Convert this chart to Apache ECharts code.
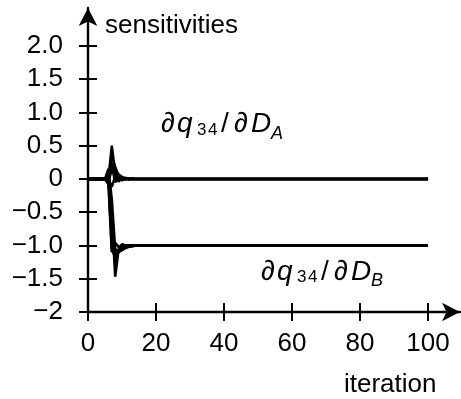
<!DOCTYPE html>
<html>
<head>
<meta charset="utf-8">
<script src="https://cdn.jsdelivr.net/npm/echarts@6/dist/echarts.min.js"></script>
<style>
  html, body { margin: 0; padding: 0; background: #fff; }
  #chart { width: 461px; height: 399px; }
</style>
</head>
<body>
<div id="chart"></div>
<script>
// Iterations at which each run was sampled (the tail stays flat to 100).
const iterations = [0, 5, 6, 7, 8, 9, 10, 11, 12, 13, 14, 16, 100];

// dq34/dD_A for several runs
const dA1 = [0, 0, 0, 0.50, 0.08, 0.03, 0.01, 0, 0, 0, 0, 0, 0];
const dA2 = [0, 0, 0.02, 0.36, 0.18, 0.05, -0.02, 0.01, 0, 0, 0, 0, 0];
const dA3 = [0, 0, 0.05, 0.24, 0.12, 0.07, 0.03, 0.01, 0, 0, 0, 0, 0];
const dA4 = [0, 0, -0.04, 0.14, 0.06, -0.04, 0.02, -0.01, 0.01, 0, 0, 0, 0];
const dA5 = [0, 0, 0, -0.12, 0.04, 0.03, -0.02, 0.02, -0.01, 0.01, 0, 0, 0];
const dA6 = [0, 0, 0.08, 0.20, -0.05, 0.04, 0.02, 0, 0, 0, 0, 0, 0];

// dq34/dD_B for the same runs
const dB1 = [0, 0, 0, -0.55, -1.47, -1.06, -0.98, -1.0, -1.0, -1.0, -1.0, -1.0, -1.0];
const dB2 = [0, 0, 0, -1.05, -1.18, -1.06, -1.02, -1.0, -1.0, -1.0, -1.0, -1.0, -1.0];
const dB3 = [0, 0, 0.04, -0.85, -1.12, -1.09, -1.05, -1.03, -1.02, -1.01, -1.0, -1.0, -1.0];
const dB4 = [0, 0, -0.08, -1.10, -0.96, -1.02, -1.0, -1.0, -1.0, -1.0, -1.0, -1.0, -1.0];
const dB5 = [0, 0, 0.15, -0.30, -1.05, -1.10, -1.07, -1.04, -1.02, -1.01, -1.0, -1.0, -1.0];
const dB6 = [0, 0, 0, -0.70, -1.25, -1.08, -1.04, -1.02, -1.01, -1.0, -1.0, -1.0, -1.0];

const runs = [dA1, dA2, dA3, dA4, dA5, dA6, dB1, dB2, dB3, dB4, dB5, dB6];

const xTicks = [0, 20, 40, 60, 80, 100];
const yTicks = [-2, -1.5, -1, -0.5, 0, 0.5, 1, 1.5, 2];

const FONT = '"Liberation Sans", Arial, sans-serif';
const MINUS = '\u2212';
const TXT = 26;

function yLabel(v) {
  if (Math.abs(v) < 1e-9) return '0';
  if (Math.abs(v + 2) < 1e-9) return MINUS + '2';
  const s = Math.abs(v).toFixed(1);
  return (v < 0 ? MINUS : '') + s;
}

const chart = echarts.init(document.getElementById('chart'), null, { renderer: 'canvas' });

const axisLineStyle = { color: '#000', width: 2.4 };

const baseX = {
  type: 'value', min: 0, max: 109.4, interval: 20,
  gridIndex: 0, position: 'bottom',
  splitLine: { show: false }
};
const baseY = {
  type: 'value', min: -2, max: 2.571, interval: 0.5,
  gridIndex: 0, position: 'left',
  splitLine: { show: false }
};

// math-style annotation pieces: [text, left x, middle y, size, italic]
function mathPieces(pieces) {
  return pieces.map(p => ({
    type: 'text',
    x: p[1], y: p[2],
    style: {
      text: p[0],
      font: (p[4] ? 'italic ' : '') + p[3] + 'px ' + FONT,
      fill: '#000',
      align: 'left', verticalAlign: 'middle',
      textAlign: 'left', textVerticalAlign: 'middle'
    },
    silent: true
  }));
}

const labelA = mathPieces([
  ['\u2202', 161, 124, 28, true], ['q', 177, 124, 28, true],
  ['3', 197, 130, 17, false], ['4', 208, 130, 17, false],
  ['/', 221, 124, 28, false], ['\u2202', 234, 124, 28, true], ['D', 251, 124, 28, true],
  ['A', 271, 134, 18, true]
]);
const labelB = mathPieces([
  ['\u2202', 261, 272, 28, true], ['q', 277, 272, 28, true],
  ['3', 297, 277, 17, false], ['4', 308, 277, 17, false],
  ['/', 321, 272, 28, false], ['\u2202', 334, 272, 28, true], ['D', 351, 272, 28, true],
  ['B', 371, 281, 18, true]
]);

const option = {
  animation: false,
  backgroundColor: '#fff',
  grid: { left: 88, right: 1, top: 8, bottom: 87, containLabel: false },
  xAxis: [
    Object.assign({}, baseX, {
      axisLine: { show: true, onZero: false, lineStyle: axisLineStyle,
                  symbol: ['none', 'arrow'], symbolSize: [14, 18] },
      axisTick: { show: true, inside: false, length: 9, customValues: xTicks,
                  lineStyle: { color: '#000', width: 2 } },
      axisLabel: { show: true, customValues: xTicks, margin: 19,
                   color: '#000', fontFamily: FONT, fontSize: TXT,
                   formatter: v => (xTicks.indexOf(v) >= 0 ? String(v) : '') }
    }),
    Object.assign({}, baseX, {
      axisLine: { show: false, onZero: false },
      axisTick: { show: true, inside: true, length: 9, customValues: xTicks,
                  lineStyle: { color: '#000', width: 2 } },
      axisLabel: { show: false }
    })
  ],
  yAxis: [
    Object.assign({}, baseY, {
      axisLine: { show: true, onZero: false, lineStyle: axisLineStyle,
                  symbol: ['none', 'arrow'], symbolSize: [14, 18] },
      axisTick: { show: true, inside: false, length: 9, customValues: yTicks,
                  lineStyle: { color: '#000', width: 2 } },
      axisLabel: { show: true, customValues: yTicks, margin: 25,
                   color: '#000', fontFamily: FONT, fontSize: TXT,
                   formatter: v => (yTicks.some(t => Math.abs(t - v) < 1e-9) ? yLabel(v) : '') }
    }),
    Object.assign({}, baseY, {
      axisLine: { show: false, onZero: false },
      axisTick: { show: true, inside: true, length: 9, customValues: yTicks,
                  lineStyle: { color: '#000', width: 2 } },
      axisLabel: { show: false }
    })
  ],
  series: runs.map(vals => ({
    type: 'line',
    xAxisIndex: 0, yAxisIndex: 0,
    data: iterations.map((it, i) => [it, vals[i]]),
    showSymbol: false, symbol: 'none',
    lineStyle: { color: '#000', width: 2.5 },
    silent: true
  })),
  graphic: [
    { type: 'text', x: 105, y: 26, silent: true,
      style: { text: 'sensitivities', font: TXT + 'px ' + FONT, fill: '#000',
               align: 'left', verticalAlign: 'middle', textAlign: 'left', textVerticalAlign: 'middle' } },
    { type: 'text', x: 344, y: 385, silent: true,
      style: { text: 'iteration', font: TXT + 'px ' + FONT, fill: '#000',
               align: 'left', verticalAlign: 'middle', textAlign: 'left', textVerticalAlign: 'middle' } }
  ].concat(labelA, labelB)
};

chart.setOption(option);
</script>
</body>
</html>
